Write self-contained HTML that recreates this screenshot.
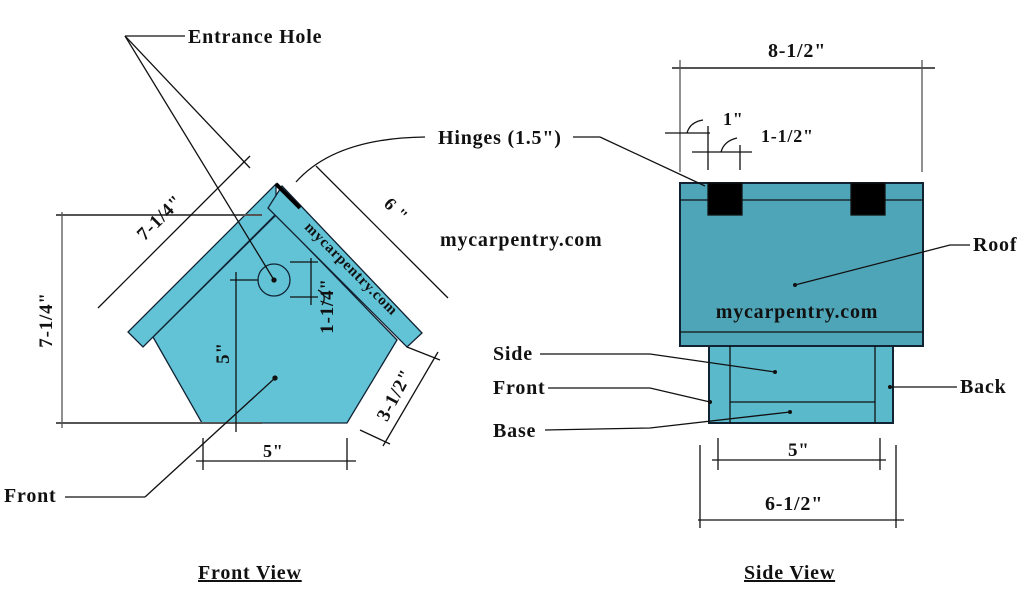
<!DOCTYPE html>
<html><head><meta charset="utf-8"><style>
html,body{margin:0;padding:0;background:#fff;width:1024px;height:600px;overflow:hidden}
svg{display:block}
text{font-family:"Liberation Serif",serif;font-weight:bold;fill:#111;letter-spacing:0.8px}
</style></head><body>
<svg width="1024" height="600" viewBox="0 0 1024 600" xmlns="http://www.w3.org/2000/svg">
<g stroke="#111" stroke-width="1.3" fill="none">
<polygon points="153,337 202,423 347,423 397,340 276,215" fill="#62c3d6" stroke="#123"/>
<polygon points="276,184 128,332 143,347 276,214" fill="#62c3d6" stroke="#123"/>
<polygon points="282,186 422,333 407,347 268,208" fill="#62c3d6" stroke="#123"/>
<line x1="276" y1="184" x2="300" y2="208" stroke="#000" stroke-width="4"/>
<circle cx="274" cy="280" r="16" fill="#62c3d6" stroke="#123"/>
<circle cx="274" cy="280" r="2" fill="#111"/>
<line x1="62" y1="212" x2="62" y2="428" stroke="#555"/>
<line x1="56" y1="215" x2="262" y2="215" stroke="#555" stroke-width="2"/>
<line x1="56" y1="423" x2="262" y2="423" stroke="#555" stroke-width="2"/>
<line x1="98" y1="308" x2="250" y2="156"/>
<line x1="316" y1="166" x2="448" y2="298"/>
<line x1="438" y1="352" x2="383" y2="446"/>
<line x1="407" y1="347" x2="440" y2="360"/>
<line x1="360" y1="430" x2="390" y2="444"/>
<line x1="203" y1="438" x2="203" y2="470"/>
<line x1="347" y1="438" x2="347" y2="470"/>
<line x1="196" y1="461" x2="356" y2="461"/>
<line x1="236" y1="272" x2="236" y2="432"/>
<line x1="230" y1="280" x2="258" y2="280"/>
<line x1="311" y1="258" x2="311" y2="305"/>
<line x1="290" y1="262" x2="318" y2="262"/>
<line x1="290" y1="297" x2="318" y2="297"/>
<path d="M318,290 Q328,295 322,305"/>
<line x1="125" y1="36" x2="185" y2="36"/>
<line x1="125" y1="36" x2="274" y2="280"/>
<line x1="125" y1="36" x2="250" y2="168"/>
<path d="M296,182 Q335,138 425,137"/>
<line x1="65" y1="497" x2="145" y2="497"/>
<line x1="145" y1="497" x2="275" y2="378"/>
<circle cx="275" cy="378" r="2" fill="#111"/>
<rect x="680" y="183" width="243" height="163" fill="#4fa5b8" stroke="#123" stroke-width="2"/>
<line x1="680" y1="200" x2="923" y2="200"/>
<line x1="680" y1="332" x2="923" y2="332"/>
<rect x="708" y="183" width="34" height="32" fill="#000"/>
<rect x="851" y="183" width="34" height="32" fill="#000"/>
<rect x="709" y="346" width="184" height="77" fill="#5bb9cc" stroke="#123" stroke-width="2"/>
<line x1="730" y1="346" x2="730" y2="423"/>
<line x1="875" y1="346" x2="875" y2="423"/>
<line x1="730" y1="402" x2="875" y2="402"/>
<line x1="672" y1="68" x2="935" y2="68" stroke="#555" stroke-width="2"/>
<line x1="680" y1="60" x2="680" y2="172" stroke="#555"/>
<line x1="922" y1="60" x2="922" y2="172" stroke="#555"/>
<line x1="665" y1="133" x2="710" y2="133"/>
<line x1="708" y1="126" x2="708" y2="170"/>
<line x1="692" y1="152" x2="752" y2="152"/>
<line x1="740" y1="145" x2="740" y2="170"/>
<path d="M687,133 Q690,122 703,120"/><path d="M721,152 Q724,141 737,138"/>
<line x1="712" y1="460" x2="886" y2="460"/>
<line x1="718" y1="438" x2="718" y2="470"/>
<line x1="880" y1="438" x2="880" y2="470"/>
<line x1="698" y1="520" x2="904" y2="520"/>
<line x1="700" y1="445" x2="700" y2="528"/>
<line x1="896" y1="445" x2="896" y2="528"/>
<line x1="573" y1="137" x2="600" y2="137"/>
<line x1="600" y1="137" x2="705" y2="186"/>
<path d="M540,354 L650,354 L775,372"/>
<path d="M548,388 L650,388 L710,402"/>
<path d="M545,430 L650,428 L790,412"/>
<path d="M970,245 L950,245 L795,285"/>
<line x1="890" y1="387" x2="957" y2="387"/>
</g>
<g fill="#111"><circle cx="775" cy="372" r="2"/><circle cx="710" cy="402" r="2"/><circle cx="790" cy="412" r="2"/><circle cx="795" cy="285" r="2"/><circle cx="890" cy="387" r="2"/></g>
<text x="188" y="43" font-size="20">Entrance Hole</text>
<text x="438" y="144" font-size="20">Hinges (1.5")</text>
<text x="440" y="246" font-size="20">mycarpentry.com</text>
<text x="4" y="502" font-size="20">Front</text>
<text x="198" y="579" font-size="20" text-decoration="underline">Front View</text>
<text x="744" y="579" font-size="20" text-decoration="underline">Side View</text>
<text x="263" y="457" font-size="18">5"</text>
<text transform="translate(52,320) rotate(-90)" text-anchor="middle" font-size="19">7-1/4"</text>
<text transform="translate(164,222) rotate(-45)" text-anchor="middle" font-size="19">7-1/4"</text>
<text transform="translate(392,214) rotate(45)" text-anchor="middle" font-size="18">6 "</text>
<text transform="translate(400,398) rotate(-62)" text-anchor="middle" font-size="19">3-1/2"</text>
<text transform="translate(229,353) rotate(-90)" text-anchor="middle" font-size="19">5"</text>
<text transform="translate(333,306) rotate(-90)" text-anchor="middle" font-size="19">1-1/4"</text>
<text transform="translate(348,272) rotate(45)" text-anchor="middle" font-size="15">mycarpentry.com</text>
<text x="768" y="57" font-size="20">8-1/2"</text>
<text x="723" y="125" font-size="18">1"</text>
<text x="761" y="142" font-size="18">1-1/2"</text>
<text x="797" y="318" font-size="20" text-anchor="middle">mycarpentry.com</text>
<text x="493" y="360" font-size="20">Side</text>
<text x="493" y="394" font-size="20">Front</text>
<text x="493" y="437" font-size="20">Base</text>
<text x="973" y="251" font-size="20">Roof</text>
<text x="960" y="393" font-size="20">Back</text>
<text x="788" y="456" font-size="19">5"</text>
<text x="765" y="510" font-size="20">6-1/2"</text>
</svg>
</body></html>
